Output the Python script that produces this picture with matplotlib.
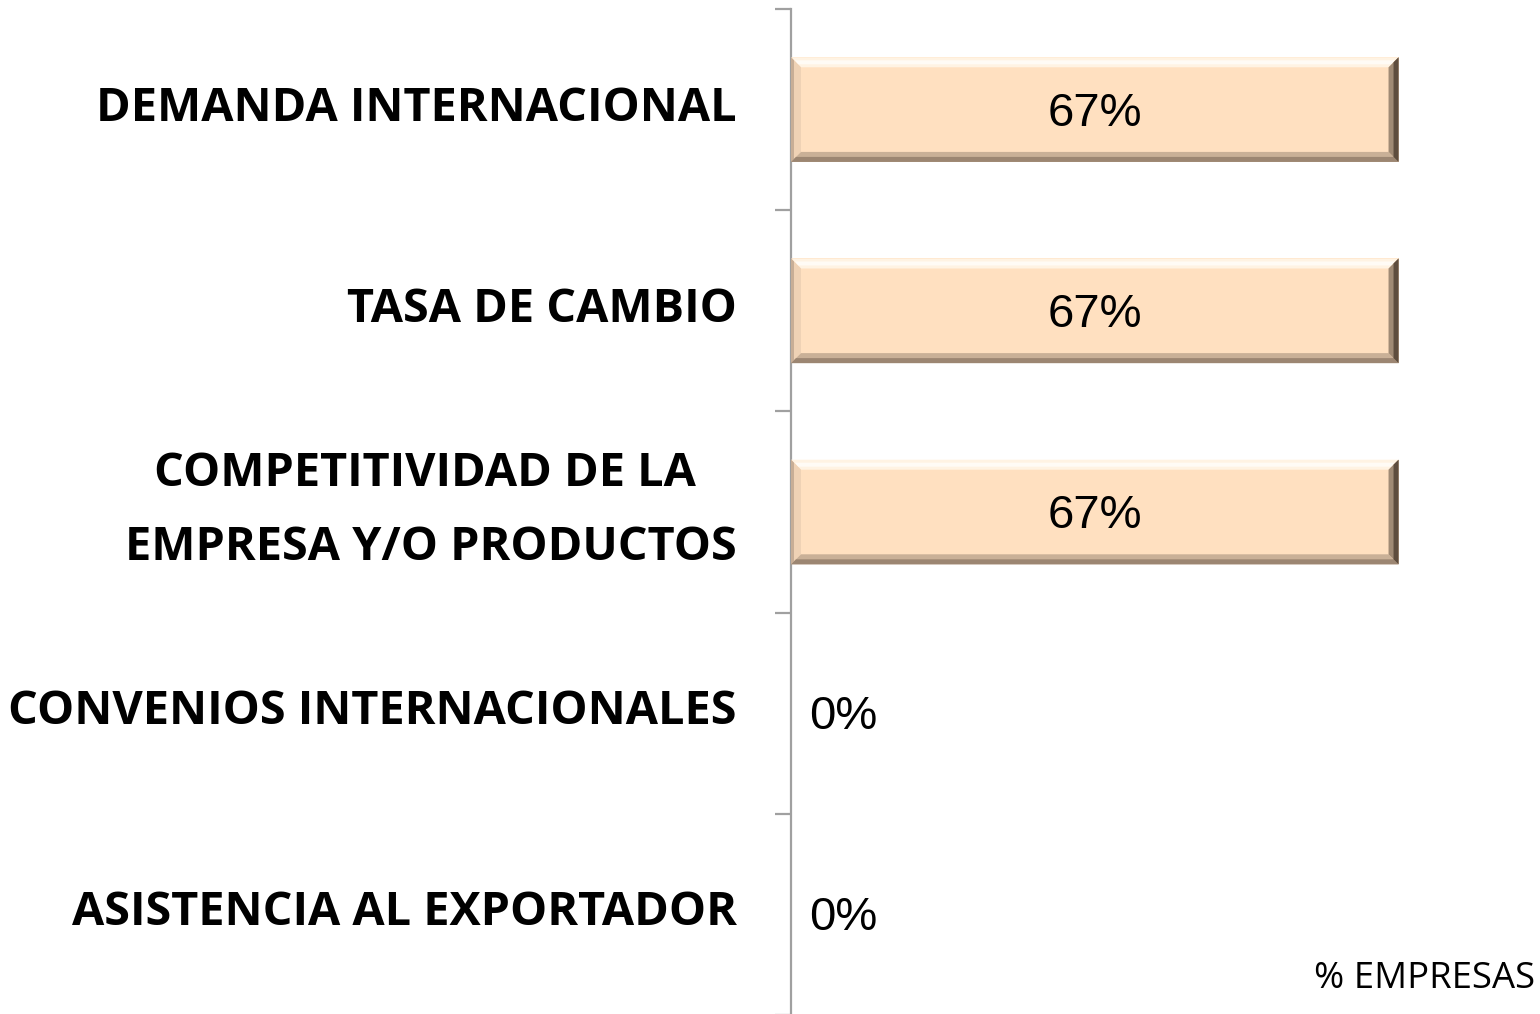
import matplotlib
matplotlib.use("Agg")
import matplotlib.pyplot as plt
from matplotlib.patches import Polygon
import matplotlib.transforms as mtransforms
import numpy as np

categories = ["DEMANDA INTERNACIONAL", "TASA DE CAMBIO",
              "COMPETITIVIDAD DE LA \nEMPRESA Y/O PRODUCTOS",
              "CONVENIOS INTERNACIONALES", "ASISTENCIA AL EXPORTADOR"]
values = [0.67, 0.67, 0.67, 0.0, 0.0]
value_labels = ["67%", "67%", "67%", "0%", "0%"]
axis_title = "% EMPRESAS"

W, H = 1540, 1014
fig = plt.figure(figsize=(W / 100, H / 100), dpi=100)
ax = fig.add_axes([791 / W, 1 - 1015 / H, 1 - 791 / W, (1015 - 9) / H])

y = np.arange(len(categories))
fill = "#FFE0C0"
bars = ax.barh(y, values, height=0.52, color=fill, edgecolor="none", zorder=2)
ax.set_ylim(len(categories) - 0.5, -0.5)
ax.set_xlim(0, 0.826)

for s in ["top", "right", "bottom"]:
    ax.spines[s].set_visible(False)
ax.spines["left"].set_color("#a0a0a0")
ax.spines["left"].set_linewidth(1.6)
ax.set_xticks([])
ax.set_yticks(y)
ax.set_yticklabels(categories, fontsize=33.7, fontweight="bold", family="Open Sans",
                   ha="right", multialignment="center", linespacing=1.75)
ax.tick_params(axis="y", which="major", length=0, pad=54 * 72 / 100)
ax.set_yticks(np.arange(-0.5, len(categories) + 0.5, 1), minor=True)
ax.tick_params(axis="y", which="minor", length=11.5, width=1.6, color="#a0a0a0")

for lbl in ax.get_yticklabels():
    dy = 21 if "\n" in lbl.get_text() else 7
    offset = mtransforms.ScaledTranslation(0, dy / 100, fig.dpi_scale_trans)
    lbl.set_transform(lbl.get_transform() + offset)

for i, (v, t) in enumerate(zip(values, value_labels)):
    if v > 0:
        ax.text(v / 2, i + 0.02, t, ha="center", va="center", fontsize=34,
                family="Liberation Sans", color="black", zorder=5)
    else:
        ax.text(0.02, i + 0.02, t, ha="left", va="center", fontsize=34,
                family="Liberation Sans", color="black", zorder=5)

fig.text(1535 / W, 1 - 979 / H, axis_title, ha="right", va="center",
         fontsize=26.3, family="Open Sans", color="black")

# bevel effect
fig.canvas.draw()
renderer = fig.canvas.get_renderer()
inv = fig.transFigure.inverted()
bw = 10
for b in bars:
    if b.get_width() <= 0:
        continue
    x0, y0, x1, y1 = b.get_window_extent(renderer).extents  # display px, y up
    def P(pts, c):
        fp = inv.transform(np.array(pts))
        fig.patches.append(Polygon(fp, closed=True, transform=fig.transFigure,
                                   facecolor=c, edgecolor="none", zorder=3))
    # top highlight
    P([(x0, y1), (x1, y1), (x1 - bw, y1 - bw), (x0 + bw, y1 - bw)], "#FFF3E3")
    P([(x0 + 4, y1 - 3), (x1 - 4, y1 - 3), (x1 - 7, y1 - 7), (x0 + 7, y1 - 7)], "#FFFBF5")
    # left
    P([(x0, y0), (x0, y1), (x0 + bw, y1 - bw), (x0 + bw, y0 + bw)], "#EFD2B5")
    P([(x0, y0), (x0, y1), (x0 + 3, y1 - 3), (x0 + 3, y0 + 3)], "#C8AE96")
    # bottom
    P([(x0, y0), (x1, y0), (x1 - bw, y0 + bw), (x0 + bw, y0 + bw)], "#C9B097")
    P([(x0, y0), (x1, y0), (x1 - 5, y0 + 5), (x0 + 5, y0 + 5)], "#9C8672")
    # right
    P([(x1, y0), (x1, y1), (x1 - bw, y1 - bw), (x1 - bw, y0 + bw)], "#A08A74")
    P([(x1, y0), (x1, y1), (x1 - 5, y1 - 5), (x1 - 5, y0 + 5)], "#5E4D3E")

fig.savefig("out.png", dpi=100)
